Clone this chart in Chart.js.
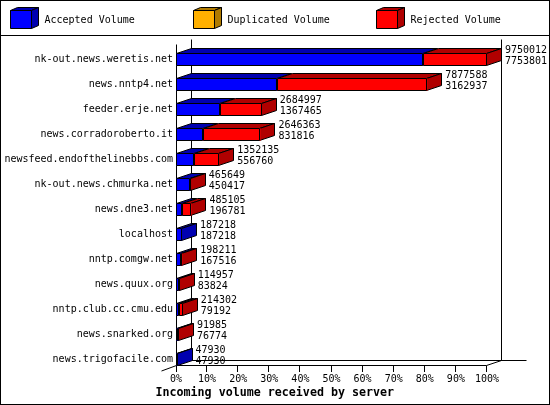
<!DOCTYPE html>
<html>
<head>
<meta charset="utf-8">
<style>html,body{margin:0;padding:0;background:#fff}canvas{display:block}</style>
<script src="https://cdn.jsdelivr.net/npm/chart.js@4"></script>
</head>
<body>
<canvas id="c" width="550" height="405"></canvas>
<script>
const servers = ["nk-out.news.weretis.net","news.nntp4.net","feeder.erje.net","news.corradoroberto.it","newsfeed.endofthelinebbs.com","nk-out.news.chmurka.net","news.dne3.net","localhost","nntp.comgw.net","news.quux.org","nntp.club.cc.cmu.edu","news.snarked.org","news.trigofacile.com"];
const totalVolume = [9750012,7877588,2684997,2646363,1352135,465649,485105,187218,198211,114957,214302,91985,47930];
const acceptedVolume = [7753801,3162937,1367465,831816,556760,450417,196781,187218,167516,83824,79192,76774,47930];
const duplicatedVolume = [0,0,0,0,0,0,0,0,0,0,0,0,0];
const seriesNames = ["Accepted Volume","Duplicated Volume","Rejected Volume"];
const xTitle = "Incoming volume received by server";
const frontColors = ["#0000ff","#ffb000","#ff0000"];
const darkColors = ["#0000b0","#b07b00","#b00000"];

const maxTotal = Math.max(...totalVolume);
const pct = v => v / maxTotal * 100;
const rejectedVolume = totalVolume.map((t,i)=>t-acceptedVolume[i]-duplicatedVolume[i]);
const seriesValues = [acceptedVolume,duplicatedVolume,rejectedVolume];
const MONO = '"DejaVu Sans Mono", monospace';
const DX = 15, DY = 5;

function poly(ctx, pts, fill){
  ctx.beginPath();
  pts.forEach((p,i)=> i ? ctx.lineTo(p[0],p[1]) : ctx.moveTo(p[0],p[1]));
  ctx.closePath();
  if(fill){ctx.fillStyle = fill; ctx.fill();}
  ctx.strokeStyle = "#000"; ctx.lineWidth = 1; ctx.stroke();
}
function line(ctx,x1,y1,x2,y2){
  ctx.beginPath(); ctx.moveTo(x1,y1); ctx.lineTo(x2,y2);
  ctx.strokeStyle="#000"; ctx.lineWidth=1; ctx.stroke();
}
const snap = v => Math.round(v)+0.5;

const chrome = {
  id:"chrome",
  beforeDraw(chart){
    const {ctx,chartArea:a,scales:{x}} = chart;
    ctx.save();
    ctx.fillStyle="#fff"; ctx.fillRect(0,0,550,405);
    const L=a.left+0.5, R=a.right-0.5, floorY=a.bottom-6.5, backY=floorY-DY, top=a.top-2.5;
    line(ctx,L,top,L,a.bottom);
    line(ctx,L+DX,top-DY,L+DX,backY);
    line(ctx,R+DX,top-DY,R+DX,backY);
    line(ctx,L+DX,backY,R+DX+25,backY);
    line(ctx,L,floorY,R,floorY);
    line(ctx,L-DX,floorY+DY+0.5,L,floorY);
    line(ctx,R,floorY,R+DX,backY);
    x.ticks.forEach(t=>{
      const px=Math.round(x.getPixelForValue(t.value))+0.5-(t.value>0?1:0);
      line(ctx,px,floorY,px,a.bottom);
    });
    ctx.restore();
  },
  beforeDatasetsDraw(chart){
    const {ctx} = chart;
    ctx.save();
    servers.forEach((_,i)=>{
      let last=null;
      seriesValues.forEach((vals,d)=>{
        if(!vals[i]) return;
        const el=chart.getDatasetMeta(d).data[i];
        const top=el.y-el.height/2+0.5, x0=snap(el.base), x1=snap(el.x)-1;
        poly(ctx,[[x0,top],[x1,top],[x1+DX,top-DY],[x0+DX,top-DY]],darkColors[d]);
        last={x1,top,bot:el.y+el.height/2-0.5,d};
      });
      if(last){
        poly(ctx,[[last.x1,last.top],[last.x1+DX,last.top-DY],[last.x1+DX,last.bot-DY],[last.x1,last.bot]],darkColors[last.d]);
      }
    });
    ctx.restore();
  },
  afterDatasetsDraw(chart){
    const {ctx} = chart;
    ctx.save();
    servers.forEach((_,i)=>{
      seriesValues.forEach((vals,d)=>{
        if(!vals[i]) return;
        const el=chart.getDatasetMeta(d).data[i];
        const t=el.y-el.height/2+0.5, b=el.y+el.height/2-0.5, x0=snap(el.base), x1=snap(el.x)-1;
        poly(ctx,[[x0,t],[x1,t],[x1,b],[x0,b]],null);
      });
    });
    ctx.fillStyle="#000";
    ctx.font='10px '+MONO;
    ctx.textBaseline="middle"; ctx.textAlign="left";
    servers.forEach((_,i)=>{
      const el=chart.getDatasetMeta(2).data[i];
      const tx=el.x+DX+3;
      ctx.fillText(String(totalVolume[i]),tx,el.y-9.5);
      ctx.fillText(String(acceptedVolume[i]),tx,el.y+1.5);
    });
    seriesNames.forEach((name,d)=>{
      const sx=10.5+d*183, sy=10.5, w=21, h=18;
      poly(ctx,[[sx,sy],[sx+w,sy],[sx+w+7,sy-3],[sx+7,sy-3]],darkColors[d]);
      poly(ctx,[[sx+w,sy],[sx+w+7,sy-3],[sx+w+7,sy+h-3],[sx+w,sy+h]],darkColors[d]);
      poly(ctx,[[sx,sy],[sx+w,sy],[sx+w,sy+h],[sx,sy+h]],frontColors[d]);
      ctx.fillStyle="#000";
      ctx.fillText(name,sx+34,20.5);
    });
    ctx.font='bold 11.67px '+MONO;
    ctx.fillText(xTitle,155.5,392.5);
    ctx.strokeStyle="#000"; ctx.lineWidth=1;
    ctx.strokeRect(0.5,0.5,549,404);
    line(ctx,0,35.5,550,35.5);
    ctx.restore();
  }
};

new Chart(document.getElementById("c"),{
  type:"bar",
  data:{
    labels:servers,
    datasets:seriesValues.map((vals,d)=>({
      label:seriesNames[d],
      data:vals.map(pct),
      backgroundColor:frontColors[d],
      borderWidth:0,
      inflateAmount:0,
      barThickness:13
    }))
  },
  plugins:[chrome],
  options:{
    indexAxis:"y",
    responsive:false,
    animation:false,
    devicePixelRatio:1,
    layout:{padding:{top:47,right:63,left:0,bottom:0}},
    plugins:{legend:{display:false},tooltip:{enabled:false},title:{display:false}},
    scales:{
      x:{
        stacked:true,min:0,max:100,
        grid:{display:false,drawTicks:false},border:{display:false},
        afterFit(s){s.height=33;},
        ticks:{stepSize:10,maxRotation:0,autoSkip:false,color:"#000",padding:1,
          font:{family:MONO,size:10},callback:v=>v+"%"}
      },
      y:{
        stacked:true,
        grid:{display:false,drawTicks:false},border:{display:false},
        afterFit(s){s.width=176;},
        ticks:{autoSkip:false,color:"#000",padding:3,font:{family:MONO,size:10}}
      }
    }
  }
});
</script>
</body>
</html>
